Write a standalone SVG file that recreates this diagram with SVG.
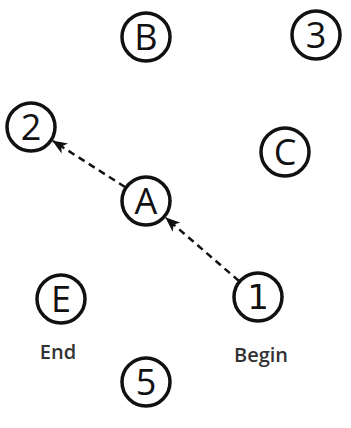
<svg xmlns="http://www.w3.org/2000/svg" width="351" height="428" viewBox="0 0 351 428">
<style>
.n circle{fill:#fff;stroke:#111;stroke-width:3.5}
.n text{font-family:"Open Sans","DejaVu Sans",sans-serif;font-size:36px;fill:#111;text-anchor:middle}
.n text.one{font-family:"DejaVu Sans",sans-serif;font-size:34px}
.lbl{font-family:"Open Sans","DejaVu Sans",sans-serif;font-size:20px;fill:#333;text-anchor:middle;font-weight:600}
.e{stroke:#111;stroke-width:2.5;stroke-dasharray:7,5;fill:none}
</style>
<defs>
<marker id="ah" viewBox="0 0 15 12" refX="14" refY="6" markerWidth="15" markerHeight="12" markerUnits="userSpaceOnUse" orient="auto">
<path d="M0,0 L15,6 L0,12 L4,6 Z" fill="#111"/>
</marker>
</defs>
<g id="edges">
<path class="e" d="M239,281 L166,218" marker-end="url(#ah)"/>
<path class="e" d="M125,187 L53,141" marker-end="url(#ah)"/>
</g>
<g id="B" class="n"><circle cx="146" cy="37" r="24"/><text x="146" y="50">B</text></g>
<g id="n3" class="n"><circle cx="316" cy="35" r="24"/><text x="316" y="48">3</text></g>
<g id="n2" class="n"><circle cx="31" cy="127" r="24"/><text x="31" y="140">2</text></g>
<g id="C" class="n"><circle cx="285" cy="152" r="24"/><text x="285" y="165">C</text></g>
<g id="A" class="n"><circle cx="146" cy="201" r="24"/><text x="146" y="214">A</text></g>
<g id="n1" class="n"><circle cx="258" cy="297" r="24"/><text class="one" x="258" y="309">1</text></g>
<g id="E" class="n"><circle cx="61" cy="299" r="24"/><text x="61" y="312">E</text></g>
<g id="n5" class="n"><circle cx="146" cy="382" r="24"/><text x="146" y="395">5</text></g>
<text class="lbl" x="58" y="359">End</text>
<text class="lbl" x="261" y="362">Begin</text>
</svg>
